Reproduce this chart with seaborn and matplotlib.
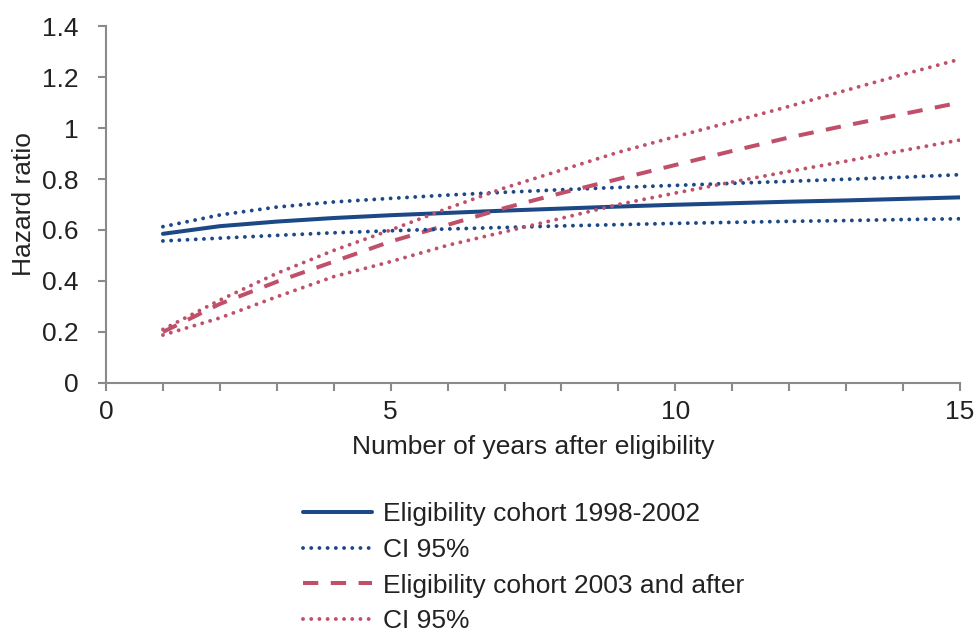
import matplotlib
matplotlib.use("Agg")
import matplotlib.pyplot as plt
import seaborn as sns
import pandas as pd

years = list(range(1, 16))
blue_hr = [0.585, 0.615, 0.633, 0.647, 0.658, 0.667, 0.676, 0.684, 0.692, 0.699, 0.705, 0.711, 0.716, 0.722, 0.728]
blue_hi = [0.613, 0.659, 0.690, 0.710, 0.724, 0.737, 0.748, 0.758, 0.767, 0.775, 0.783, 0.791, 0.799, 0.807, 0.817]
blue_lo = [0.557, 0.568, 0.579, 0.589, 0.597, 0.604, 0.610, 0.616, 0.621, 0.626, 0.630, 0.634, 0.637, 0.641, 0.644]
red_hr = [0.200, 0.310, 0.397, 0.476, 0.555, 0.620, 0.686, 0.745, 0.800, 0.855, 0.910, 0.963, 1.010, 1.055, 1.100]
red_hi = [0.210, 0.325, 0.430, 0.520, 0.600, 0.685, 0.765, 0.835, 0.905, 0.966, 1.025, 1.085, 1.148, 1.210, 1.270]
red_lo = [0.188, 0.255, 0.338, 0.417, 0.476, 0.540, 0.593, 0.646, 0.700, 0.745, 0.788, 0.830, 0.870, 0.912, 0.953]

labels = ["Eligibility cohort 1998-2002", "CI 95%", "Eligibility cohort 2003 and after", "CI 95%"]
yticks = [0, 0.2, 0.4, 0.6, 0.8, 1.0, 1.2, 1.4]
ytick_labels = ["0", "0.2", "0.4", "0.6", "0.8", "1", "1.2", "1.4"]
xticks = [0, 5, 10, 15]
xtick_labels = ["0", "5", "10", "15"]

BLUE = "#1c4886"
RED = "#c0506a"

sns.set_style("white")
plt.rcParams['font.family'] = ['Liberation Sans', 'DejaVu Sans']
FS = 19

fig = plt.figure(figsize=(9.76, 6.35), dpi=100)
ax = fig.add_axes([0.1086, 0.3969, 0.875, 0.5621])

DLW = 2.8
dot = (0, (0.01, 2.1))
series = [
    (blue_hr, labels[0], BLUE, '-', 2.9),
    (blue_hi, labels[1], BLUE, dot, DLW),
    (red_hr, labels[2], RED, (0, (3.8, 3.1)), 2.9),
    (red_hi, labels[3], RED, dot, DLW),
]
for vals, lab, col, ls, lw in series:
    df = pd.DataFrame({"x": years, "y": vals})
    sns.lineplot(data=df, x="x", y="y", ax=ax, color=col, linewidth=lw, label=lab)
    ln = ax.lines[-1]
    ln.set_linestyle(ls)
    ln.set_dash_capstyle('round' if ls is dot else 'butt')
for vals, col in [(blue_lo, BLUE), (red_lo, RED)]:
    df = pd.DataFrame({"x": years, "y": vals})
    sns.lineplot(data=df, x="x", y="y", ax=ax, color=col, linewidth=DLW, legend=False)
    ln = ax.lines[-1]
    ln.set_linestyle(dot)
    ln.set_dash_capstyle('round')

ax.set_xlim(0, 15)
ax.set_ylim(0, 1.4)
ax.set_yticks(yticks)
ax.set_yticklabels(ytick_labels)
ax.set_xticks(xticks)
ax.set_xticklabels(xtick_labels)
ax.set_xticks(years, minor=True)

for s in ["top", "right"]:
    ax.spines[s].set_visible(False)
for s in ["left", "bottom"]:
    ax.spines[s].set_color("#8a8a8a")
    ax.spines[s].set_linewidth(1.5)
ax.tick_params(axis='both', which='both', direction='out', color="#8a8a8a", width=1.5,
               length=6, labelsize=FS, labelcolor="#222222", pad=6,
               bottom=True, left=True)
ax.tick_params(axis='y', pad=14)
ax.set_xlabel("Number of years after eligibility", fontsize=FS, color="#222222", labelpad=8)
ax.set_ylabel("Hazard ratio", fontsize=FS, color="#222222", labelpad=4)

if ax.get_legend():
    ax.get_legend().remove()
handles = ax.lines[:4]
fig.legend(handles, labels, loc="upper left", bbox_to_anchor=(0.310, 0.209), frameon=False,
           fontsize=FS, handlelength=2.65, handletextpad=0.38, labelspacing=0.44,
           borderaxespad=0, borderpad=0, labelcolor="#222222")

fig.savefig("out.png", dpi=100)
